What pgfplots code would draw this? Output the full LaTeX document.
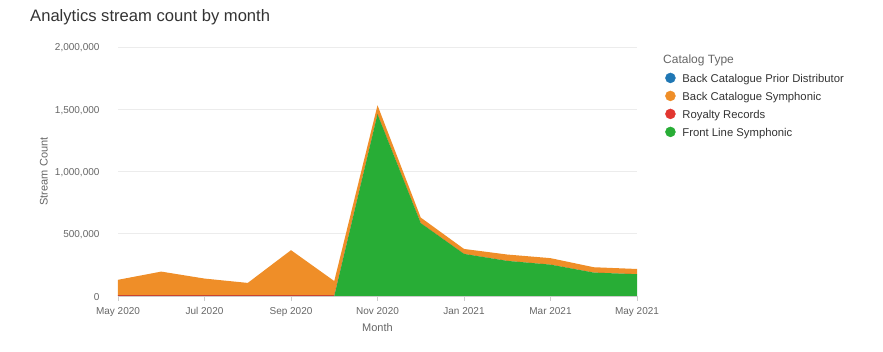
\documentclass[border=0pt]{standalone}
\usepackage{fontspec}
\setmainfont{Liberation Sans}
\usepackage{pgfplots}
\pgfplotsset{compat=1.18}
\definecolor{cOrange}{RGB}{239,142,40}
\definecolor{cGreen}{RGB}{40,173,54}
\definecolor{cRed}{RGB}{226,54,48}
\definecolor{cBlue}{RGB}{31,119,180}
\definecolor{cTitle}{RGB}{51,51,51}
\definecolor{cLab}{RGB}{102,102,102}
\definecolor{cGrid}{RGB}{236,236,236}
\definecolor{cAxis}{RGB}{204,204,204}
\begin{document}
\begin{tikzpicture}
\path[use as bounding box] (0pt,0pt) rectangle (883pt,352pt);
\node[anchor=west, font=\fontsize{16.6}{20}\selectfont, text=cTitle, inner sep=0] at (30pt,335pt) {Analytics stream count by month};
\node[anchor=west, font=\fontsize{12}{14}\selectfont, text=cLab, inner sep=0] at (663pt,292pt) {Catalog Type};
\begin{axis}[
  at={(118pt,56pt)}, anchor=south west,
  width=519pt, height=249pt, scale only axis,
  xmin=0, xmax=12, ymin=0, ymax=2000000,
  stack plots=y,
  axis x line*=bottom, axis y line*=left,
  x axis line style={cAxis, line width=0.8pt, -},
  y axis line style={draw=none},
  xtick={0,2,4,6,8,10,12},
  xticklabels={May 2020,Jul 2020,Sep 2020,Nov 2020,Jan 2021,Mar 2021,May 2021},
  ytick={0,500000,1000000,1500000,2000000},
  yticklabels={0,{500,000},{1,000,000},{1,500,000},{2,000,000}},
  scaled y ticks=false,
  ymajorgrids, grid style={cGrid, line width=0.8pt},
  tick align=outside, major tick length=5pt,
  xtick style={cAxis, line width=0.8pt},
  ytick style={draw=none},
  ticklabel style={font=\fontsize{10}{12}\selectfont, text=cLab},
  yticklabel style={xshift=-10pt, yshift=-1pt},
  xticklabel style={yshift=-3pt},
  xlabel={Month}, ylabel={Stream Count},
  every axis x label/.style={at={(axis description cs:0.5,-0.128)}, anchor=center, font=\fontsize{11}{13}\selectfont, text=cLab},
  every axis y label/.style={at={(axis description cs:-0.143,0.5)}, rotate=90, anchor=center, font=\fontsize{11}{13}\selectfont, text=cLab},
  legend style={at={(axis description cs:1.054,0.898)}, anchor=north west, draw=none, fill=none,
    font=\fontsize{11.3}{13}\selectfont, text=cTitle, row sep=4.3pt, inner sep=0pt,
    legend cell align=left},
  legend image code/.code={\fill[#1] (3pt,1.5pt) circle (5pt); \path[draw=none] (-2pt,1.5pt) -- (13pt,1.5pt);},
]
\addplot[fill=cGreen, draw=none, forget plot] coordinates {
(0,0) (1,0) (2,0) (3,0) (4,0) (5,0) (6,1460000) (7,585000) (8,338000) (9,282000) (10,252000) (11,188000) (12,175000)} \closedcycle;
\addplot[fill=cRed, draw=none, forget plot] coordinates {
(0,6000) (1,6000) (2,6000) (3,6000) (4,6000) (5,6000) (6,0) (7,0) (8,0) (9,0) (10,0) (11,0) (12,0)} \closedcycle;
\addplot[fill=cOrange, draw=none, forget plot] coordinates {
(0,124000) (1,190000) (2,134000) (3,99000) (4,362000) (5,114000) (6,72000) (7,45000) (8,40000) (9,51000) (10,52000) (11,43000) (12,42000)} \closedcycle;
\addlegendimage{cBlue}
\addlegendentry{Back Catalogue Prior Distributor}
\addlegendimage{cOrange}
\addlegendentry{Back Catalogue Symphonic}
\addlegendimage{cRed}
\addlegendentry{Royalty Records}
\addlegendimage{cGreen}
\addlegendentry{Front Line Symphonic}
\end{axis}
\end{tikzpicture}
\end{document}
